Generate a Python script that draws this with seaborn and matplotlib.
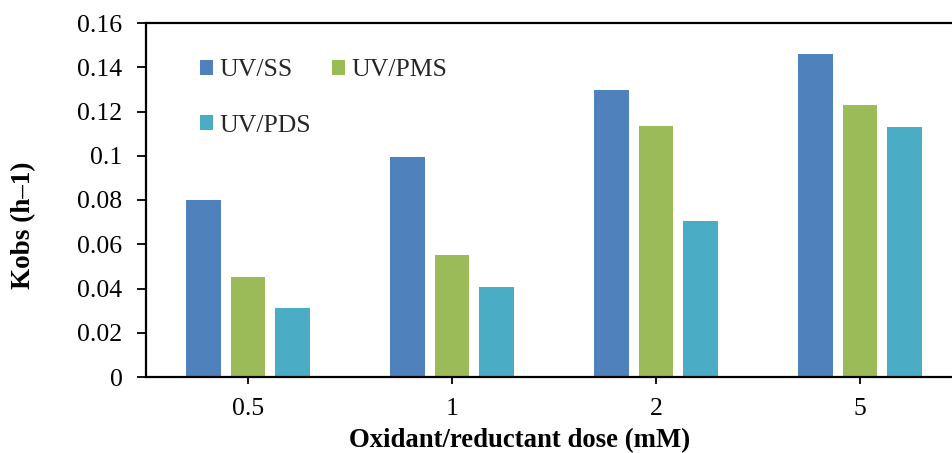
import matplotlib
matplotlib.use("Agg")
import matplotlib.pyplot as plt
import seaborn as sns
import pandas as pd

categories = ["0.5", "1", "2", "5"]
series_names = ["UV/SS", "UV/PMS", "UV/PDS"]
uv_ss = [0.080, 0.0995, 0.1295, 0.146]
uv_pms = [0.045, 0.055, 0.1135, 0.123]
uv_pds = [0.031, 0.0405, 0.0705, 0.113]
colors = ["#4F81BD", "#9BBB59", "#4BACC6"]
y_ticks = [0, 0.02, 0.04, 0.06, 0.08, 0.1, 0.12, 0.14, 0.16]
y_tick_labels = ["0", "0.02", "0.04", "0.06", "0.08", "0.1", "0.12", "0.14", "0.16"]

rows = []
for name, vals in zip(series_names, [uv_ss, uv_pms, uv_pds]):
    for c, v in zip(categories, vals):
        rows.append({"dose": c, "series": name, "kobs": v})
df = pd.DataFrame(rows)

sns.set_theme(style="white")
plt.rcParams["font.family"] = ["Liberation Serif", "DejaVu Serif"]

fig = plt.figure(figsize=(9.52, 4.53), dpi=100)
ax = fig.add_axes([146 / 952, 1 - 377 / 453, (962 - 146) / 952, (377 - 23) / 453])

sns.barplot(data=df, x="dose", y="kobs", hue="series", order=categories,
            hue_order=series_names, palette=colors, saturation=1,
            width=0.655, gap=0.22, edgecolor="none", ax=ax)

ax.set_xlim(-0.5, 3.5)
ax.set_ylim(0, 0.16)
ax.set_yticks(y_ticks)
ax.set_yticklabels(y_tick_labels)

for side in ["left", "bottom", "top", "right"]:
    ax.spines[side].set_visible(True)
    ax.spines[side].set_color("black")
    ax.spines[side].set_linewidth(1.6)

ax.tick_params(axis="y", which="both", left=True, direction="out", length=6.5,
               width=1.3, color="black", labelsize=18.5, pad=10.5, labelcolor="black")
ax.tick_params(axis="x", which="both", bottom=True, direction="out", length=5,
               width=1.3, color="black", labelsize=18.5, pad=10, labelcolor="black")

ax.set_xlabel("Oxidant/reductant dose (mM)", fontsize=19.3, fontweight="bold",
              color="black", va="center")
ax.xaxis.set_label_coords((520 - 146) / 816, (377 - 441) / 354)
ax.set_ylabel("Kobs (h\u20131)", fontsize=19.5, fontweight="bold",
              color="black", va="center")
ax.yaxis.set_label_coords((24 - 146) / 816, (377 - 225) / 354)

handles, labels = ax.get_legend_handles_labels()
order = [0, 2, 1]
leg = ax.legend([handles[i] for i in order], [labels[i] for i in order],
                loc="upper left", bbox_to_anchor=(0.066, 0.897), ncol=2,
                frameon=False, fontsize=18.5, handlelength=0.5, handleheight=0.5,
                handletextpad=0.27, columnspacing=0.8, labelspacing=1.3,
                borderaxespad=0, borderpad=0)

fig.savefig("out.png", dpi=100)
